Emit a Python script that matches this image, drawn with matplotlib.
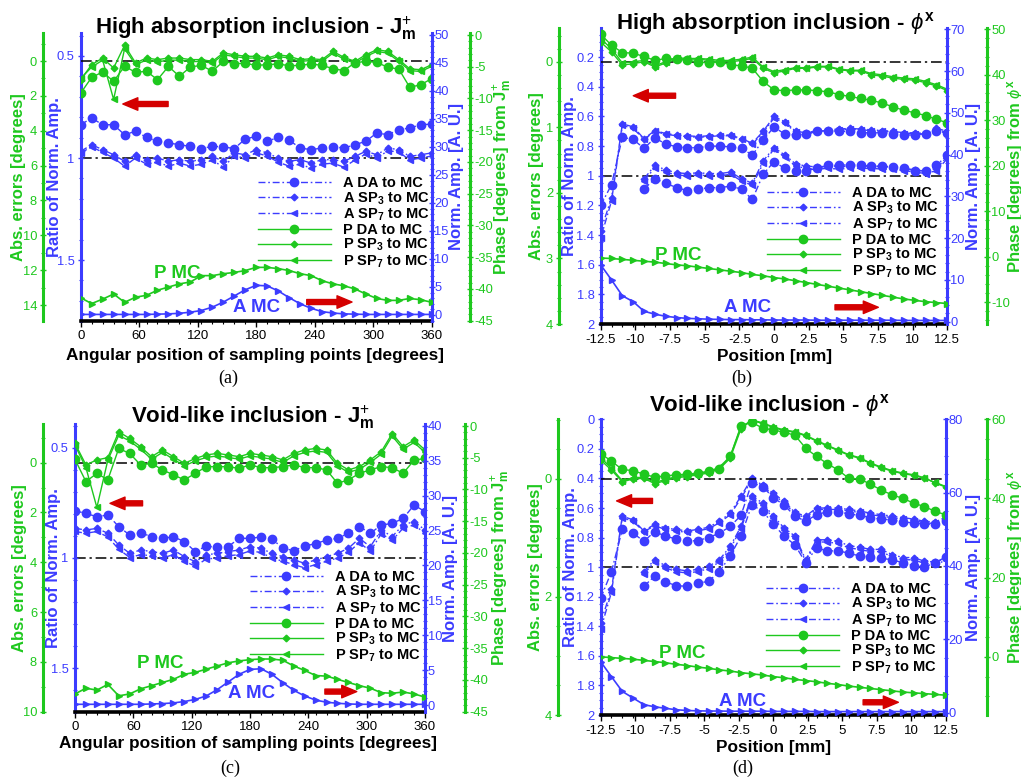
import numpy as np
import matplotlib
matplotlib.use("Agg")
import matplotlib.pyplot as plt
from matplotlib.ticker import MultipleLocator, FuncFormatter

plt.rcParams['font.family'] = ['Liberation Sans', 'DejaVu Sans']
plt.rcParams['mathtext.fontset'] = 'custom'
plt.rcParams['mathtext.rm'] = 'Liberation Sans'
plt.rcParams['mathtext.bf'] = 'Liberation Sans:bold'
plt.rcParams['mathtext.it'] = 'Liberation Sans:italic'
plt.rcParams['mathtext.sf'] = 'Liberation Sans'
plt.rcParams['axes.unicode_minus'] = False

W, H = 1021, 779
GREEN = '#1ec81e'
BLUE = '#3c3cff'
RED = '#d40000'

# ---------------- data ----------------
ANG = np.linspace(0, 360, 33)          # angular sampling points [deg]
POS = np.linspace(-12.5, 12.5, 33)     # positions [mm]
POS_LOW = POS[4:]

# panel (a): high absorption, J_m^+
A_MC_a = [0.1, 0.1, 0.1, 0.1, 0.1, 0.1, 0.1, 0.15, 0.2, 0.3, 0.5, 0.8, 1.4, 2.3, 3.4, 4.5, 5.3,
          5.2, 4.3, 3.1, 2.0, 1.2, 0.6, 0.35, 0.2, 0.15, 0.1, 0.1, 0.1, 0.1, 0.1, 0.1, 0.1]
P_MC_a = [-41.4, -42.3, -41.6, -40.8, -42.1, -41.3, -41.0, -40.2, -39.7, -39.2, -38.9, -37.9, -37.9,
          -37.6, -37.4, -37.1, -36.6, -36.6, -36.8, -37.1, -37.6, -37.9, -38.7, -39.2, -39.5, -40.0,
          -40.8, -41.5, -41.8, -41.8, -41.5, -41.7, -42.1]
A_DA_a = [0.837, 0.804, 0.837, 0.837, 0.886, 0.869, 0.899, 0.918, 0.926, 0.935, 0.943, 0.954, 0.943,
          0.945, 0.954, 0.907, 0.894, 0.918, 0.899, 0.912, 0.951, 0.959, 0.951, 0.945, 0.951, 0.935,
          0.918, 0.877, 0.886, 0.861, 0.853, 0.837, 0.834]
A_SP3_a = [0.967, 0.935, 0.959, 0.984, 1.016, 0.984, 1.008, 1.0, 1.016, 1.008, 1.016, 1.008, 0.992,
           1.016, 0.975, 0.984, 0.959, 0.975, 1.0, 1.016, 1.008, 1.025, 1.008, 1.008, 1.016, 0.992,
           0.967, 0.984, 0.951, 0.959, 0.992, 0.984, 0.975]
A_SP7_a = [0.975, 0.945, 0.972, 1.0, 1.04, 1.0, 1.03, 1.02, 1.04, 1.025, 1.04, 1.03, 1.01, 1.045,
           0.99, 1.0, 0.975, 0.99, 1.02, 1.04, 1.03, 1.05, 1.03, 1.025, 1.045, 1.01, 0.98, 1.0, 0.965,
           0.97, 1.01, 1.0, 0.99]
P_DA_a = [1.84, 0.94, 0.63, 1.17, 0.3, 0.65, 0.59, 1.07, 0.31, 0.88, 0.34, 0.25, 0.59, 0.02, 0.15,
          0.13, 0.25, 0.21, 0.17, 0.27, 0.25, 0.17, 0.25, 0.44, 0.55, 0.1, 0.02, 0.08, 0.36, 0.46,
          1.51, 1.36, 1.01]
P_SP3_a = [1.07, 0.21, -0.17, 0.4, -0.9, 0.11, -0.17, -0.08, -0.17, -0.17, -0.08, -0.08, 0.02, -0.46,
           -0.36, -0.27, -0.27, -0.17, -0.36, -0.27, -0.08, -0.13, -0.08, -0.55, -0.21, 0.02, -0.36,
           -0.65, -0.55, -0.08, 0.45, 0.5, 0.21]
P_SP7_a = [1.0, 0.35, -0.05, 2.2, -0.7, 0.2, -0.05, 0.05, -0.05, -0.05, 0.03, 0.03, 0.12, -0.36,
           -0.26, -0.17, -0.17, -0.07, -0.26, -0.17, 0.02, -0.03, 0.02, -0.45, -0.11, 0.12, -0.26,
           -0.55, -0.45, 0.02, 0.55, 0.6, 0.31]

# panel (b): high absorption, phi^x
A_MC_b = [13.6, 10.0, 6.2, 4.8, 2.5, 1.8, 1.3, 1.0, 0.8, 0.7, 0.6, 0.55, 0.5, 0.5, 0.45, 0.45, 0.4,
          0.4, 0.4, 0.4, 0.35, 0.35, 0.35, 0.35, 0.35, 0.35, 0.35, 0.35, 0.3, 0.3, 0.3, 0.3, 0.3]
P_MC_b = [-0.3, -0.4, -0.6, -0.8, -1.0, -1.2, -1.5, -1.8, -2.0, -2.3, -2.6, -2.9, -3.2, -3.5, -3.9,
          -4.2, -4.6, -4.9, -5.3, -5.7, -6.1, -6.5, -6.9, -7.3, -7.7, -8.1, -8.5, -8.9, -9.3, -9.6,
          -9.9, -10.1, -10.3]
A_DA_b = [1.2, 1.06, 0.74, 0.755, 0.815, 0.745, 0.785, 0.805, 0.81, 0.81, 0.80, 0.80, 0.805, 0.815,
          0.86, 0.76, 0.67, 0.72, 0.725, 0.72, 0.70, 0.695, 0.70, 0.70, 0.71, 0.71, 0.71, 0.715,
          0.725, 0.725, 0.715, 0.70, 0.71]
A_SP3_b = [1.37, 1.15, 0.65, 0.67, 0.75, 0.695, 0.715, 0.725, 0.73, 0.735, 0.73, 0.725, 0.725, 0.75,
           0.78, 0.70, 0.60, 0.635, 0.70, 0.71, 0.695, 0.69, 0.685, 0.68, 0.685, 0.69, 0.695, 0.70,
           0.71, 0.71, 0.715, 0.68, 0.70]
A_SP7_b = [1.42, 1.17, 0.66, 0.68, 0.755, 0.70, 0.72, 0.73, 0.735, 0.74, 0.735, 0.73, 0.73, 0.755,
           0.785, 0.71, 0.61, 0.645, 0.705, 0.715, 0.70, 0.695, 0.69, 0.685, 0.69, 0.695, 0.70,
           0.705, 0.715, 0.715, 0.72, 0.69, 0.71]
A_DA_b_low = [1.09, 1.02, 1.05, 1.08, 1.10, 1.09, 1.08, 1.08, 1.07, 1.09, 1.16, 0.99, 0.905, 0.95,
              0.97, 0.965, 0.95, 0.93, 0.93, 0.925, 0.93, 0.935, 0.935, 0.94, 0.95, 0.965, 0.965,
              0.93, 0.86]
A_SP3_b_low = [1.02, 0.93, 0.96, 0.98, 0.985, 0.98, 0.985, 0.985, 0.975, 1.02, 1.05, 0.90, 0.81,
               0.86, 0.92, 0.935, 0.94, 0.935, 0.94, 0.935, 0.935, 0.935, 0.94, 0.94, 0.95, 0.96,
               0.97, 0.95, 0.87]
A_SP7_b_low = [1.035, 0.945, 0.975, 0.995, 1.0, 0.995, 1.0, 1.0, 0.99, 1.035, 1.065, 0.915, 0.82,
               0.875, 0.935, 0.95, 0.955, 0.95, 0.955, 0.95, 0.95, 0.95, 0.955, 0.955, 0.965, 0.975,
               0.985, 0.965, 0.885]
P_DA_b = [-0.42, -0.25, -0.14, -0.13, -0.08, -0.02, -0.05, -0.04, -0.02, 0.0, 0.02, 0.0, 0.05, 0.06,
          0.1, 0.3, 0.43, 0.44, 0.43, 0.43, 0.44, 0.46, 0.5, 0.53, 0.56, 0.59, 0.63, 0.69, 0.74, 0.78,
          0.82, 0.88, 0.93]
P_SP3_b = [-0.3, -0.15, 0.05, 0.03, 0.0, 0.08, 0.02, -0.04, -0.04, -0.04, -0.02, 0.0, 0.0, -0.02,
           -0.05, 0.1, 0.17, 0.14, 0.1, 0.1, 0.08, 0.08, 0.12, 0.14, 0.14, 0.2, 0.22, 0.25, 0.27,
           0.28, 0.32, 0.37, 0.44]
P_SP7_b = [-0.35, -0.2, 0.02, 0.0, -0.02, 0.06, 0.0, -0.06, -0.05, -0.05, -0.04, -0.02, -0.02,
           -0.04, -0.07, 0.08, 0.15, 0.12, 0.09, 0.09, 0.07, 0.07, 0.11, 0.13, 0.13, 0.18, 0.2, 0.23,
           0.25, 0.26, 0.3, 0.35, 0.42]

# panel (c): void-like, J_m^+
A_MC_c = [0.1, 0.1, 0.1, 0.1, 0.1, 0.1, 0.1, 0.15, 0.2, 0.3, 0.5, 0.8, 1.3, 2.2, 3.3, 4.4, 5.1, 5.2,
          4.4, 3.2, 2.1, 1.3, 0.7, 0.4, 0.25, 0.15, 0.1, 0.1, 0.1, 0.1, 0.1, 0.1, 0.1]
P_MC_c = [-42.2, -41.3, -41.6, -40.7, -42.5, -42.2, -41.4, -40.9, -40.4, -39.9, -39.1, -38.8, -38.3,
          -37.8, -37.3, -37.0, -36.8, -36.7, -36.7, -36.9, -37.8, -38.5, -39.3, -39.4, -39.9, -40.4,
          -40.9, -41.3, -42.0, -42.1, -41.9, -42.2, -42.7]
A_DA_c = [0.786, 0.798, 0.813, 0.805, 0.858, 0.896, 0.885, 0.904, 0.911, 0.904, 0.926, 0.971, 0.946,
          0.952, 0.949, 0.911, 0.911, 0.905, 0.914, 0.955, 0.967, 0.946, 0.935, 0.919, 0.911, 0.888,
          0.858, 0.888, 0.851, 0.843, 0.821, 0.76, 0.79]
A_SP3_c = [0.866, 0.873, 0.866, 0.888, 0.941, 0.979, 0.964, 0.971, 0.979, 0.964, 0.994, 1.017,
           0.986, 0.979, 0.971, 0.964, 0.949, 0.956, 0.979, 0.994, 1.009, 1.024, 1.009, 0.994,
           0.979, 0.956, 0.911, 0.949, 0.873, 0.903, 0.85, 0.835, 0.873]
A_SP7_c = [0.88, 0.888, 0.88, 0.905, 0.96, 0.998, 0.985, 0.99, 1.0, 0.985, 1.015, 1.037, 1.005, 1.0,
           0.99, 0.985, 0.968, 0.975, 1.0, 1.015, 1.03, 1.045, 1.03, 1.015, 1.0, 0.975, 0.93, 0.97,
           0.89, 0.92, 0.865, 0.85, 0.888]
P_DA_c = [-0.13, 0.76, 0.43, 0.69, -0.57, -0.37, 0.09, 0.03, 0.29, 0.49, 0.69, 0.43, 0.16, 0.16,
          0.16, 0.23, 0.09, 0.2, 0.2, 0.16, 0.09, 0.2, 0.2, 0.29, 0.83, 0.69, 0.43, 0.29, 0.16, 0.2,
          0.43, -0.1, -0.17]
P_SP3_c = [-0.77, 0.09, -0.11, -0.2, -1.24, -0.97, -0.64, -0.24, -0.51, -0.24, 0.03, -0.17, -0.31,
           -0.37, -0.31, -0.24, -0.37, -0.31, -0.24, -0.11, -0.37, -0.51, -0.57, -0.51, 0.03, 0.29,
           0.16, -0.11, -0.44, -1.17, -0.64, -0.91, -0.51]
P_SP7_c = [-0.7, 0.2, 1.8, -0.1, -1.1, -0.87, -0.54, -0.14, -0.41, -0.14, 0.13, -0.07, -0.21, -0.27,
           -0.21, -0.14, -0.27, -0.21, -0.14, -0.01, -0.27, -0.41, -0.47, -0.41, 0.13, 0.39, 0.26,
           -0.01, -0.34, -1.07, -0.54, -0.81, -0.41]

# panel (d): void-like, phi^x
A_MC_d = [13.9, 9.8, 5.8, 4.0, 2.2, 1.6, 1.2, 0.8, 0.6, 0.5, 0.45, 0.45, 0.4, 0.4, 0.4, 0.4, 0.35,
          0.35, 0.35, 0.35, 0.3, 0.3, 0.3, 0.3, 0.3, 0.3, 0.3, 0.3, 0.3, 0.3, 0.3, 0.3, 0.3]
P_MC_d = [0.0, -0.2, -0.4, -0.6, -0.9, -1.2, -1.5, -1.9, -2.2, -2.6, -2.9, -3.3, -3.6, -4.0, -4.3,
          -4.6, -5.0, -5.3, -5.7, -6.0, -6.3, -6.7, -7.0, -7.4, -7.7, -8.0, -8.3, -8.6, -8.9, -9.1,
          -9.3, -9.5, -9.7]
A_DA_d = [1.21, 1.03, 0.745, 0.77, 0.825, 0.76, 0.79, 0.81, 0.825, 0.82, 0.80, 0.77, 0.725, 0.65,
          0.43, 0.455, 0.53, 0.58, 0.655, 0.69, 0.645, 0.625, 0.625, 0.64, 0.65, 0.665, 0.675, 0.68,
          0.695, 0.70, 0.71, 0.71, 0.69]
A_SP3_d = [1.375, 1.15, 0.655, 0.68, 0.755, 0.71, 0.735, 0.745, 0.755, 0.745, 0.73, 0.69, 0.635,
           0.52, 0.40, 0.445, 0.50, 0.555, 0.63, 0.655, 0.60, 0.60, 0.60, 0.61, 0.62, 0.635, 0.645,
           0.655, 0.665, 0.675, 0.69, 0.695, 0.66]
A_SP7_d = [1.42, 1.17, 0.665, 0.69, 0.76, 0.72, 0.745, 0.755, 0.765, 0.755, 0.74, 0.70, 0.645,
           0.535, 0.41, 0.455, 0.51, 0.565, 0.64, 0.665, 0.61, 0.61, 0.61, 0.62, 0.63, 0.645, 0.655,
           0.665, 0.675, 0.685, 0.70, 0.705, 0.67]
A_DA_d_low = [1.13, 1.06, 1.10, 1.125, 1.13, 1.11, 1.095, 1.03, 0.925, 0.79, 0.58, 0.62, 0.71, 0.79,
              0.85, 0.97, 0.87, 0.89, 0.89, 0.905, 0.925, 0.93, 0.94, 0.95, 0.97, 0.99, 1.0, 0.97,
              0.93]
A_SP3_d_low = [1.03, 0.95, 0.99, 1.015, 1.025, 1.015, 0.995, 0.95, 0.86, 0.725, 0.52, 0.565, 0.655,
               0.735, 0.79, 0.95, 0.815, 0.815, 0.825, 0.855, 0.865, 0.88, 0.88, 0.915, 0.935,
               0.935, 0.96, 0.965, 0.94]
A_SP7_d_low = [1.045, 0.965, 1.005, 1.03, 1.04, 1.03, 1.01, 0.965, 0.875, 0.74, 0.535, 0.58, 0.67,
               0.75, 0.805, 0.96, 0.83, 0.83, 0.84, 0.87, 0.88, 0.895, 0.895, 0.93, 0.95, 0.95,
               0.975, 0.98, 0.955]
P_DA_d = [-0.43, -0.3, -0.16, -0.14, -0.08, -0.03, -0.05, -0.07, -0.08, -0.1, -0.13, -0.17, -0.38,
          -0.9, -0.96, -0.86, -0.83, -0.79, -0.74, -0.52, -0.38, -0.26, -0.15, -0.01, 0.0, 0.09,
          0.19, 0.27, 0.33, 0.41, 0.47, 0.55, 0.61]
P_SP3_d = [-0.32, -0.15, 0.05, 0.0, -0.01, 0.08, 0.03, -0.02, -0.04, -0.07, -0.1, -0.17, -0.35,
           -0.85, -1.0, -0.95, -0.88, -0.83, -0.8, -0.74, -0.65, -0.57, -0.49, -0.41, -0.36, -0.27,
           -0.2, -0.14, -0.1, -0.07, -0.02, 0.07, 0.14]
P_SP7_d = [-0.36, -0.18, 0.03, -0.02, -0.03, 0.06, 0.01, -0.04, -0.06, -0.09, -0.12, -0.2, -0.38,
           -0.88, -0.99, -0.94, -0.87, -0.82, -0.79, -0.73, -0.64, -0.56, -0.48, -0.4, -0.35, -0.26,
           -0.19, -0.13, -0.09, -0.06, -0.01, 0.06, 0.13]

LEGEND_LABELS = ["A DA to MC", r"A SP$_{\mathbf{3}}$ to MC", r"A SP$_{\mathbf{7}}$ to MC",
                 "P DA to MC", r"P SP$_{\mathbf{3}}$ to MC", r"P SP$_{\mathbf{7}}$ to MC"]

TITLE_J = r"$\mathbf{J}^{+}_{\mathbf{m}}$"
TITLE_PHI = r"$\phi^{\mathbf{x}}$"

PANELS = [
    dict(x=ANG, box=(80.7, 431.7, 33.3, 320.7), xlim=(0, 360), xticks=np.arange(0, 361, 60), xminor=11.25,
         ratio_lim=(1.797, 0.389), ratio_ticks=[0.5, 1, 1.5], ratio_minor=0.1,
         err_lim=(14.9, -1.59), err_ticks=np.arange(0, 15, 2), err_minor=1,
         amp_lim=(-1.02, 50.3), amp_ticks=np.arange(0, 51, 5), amp_minor=1,
         ph_lim=(-45, 0.27), ph_ticks=np.arange(-45, 1, 5), ph_minor=1,
         err_off=-0.1066, ph_off=1.1091,
         lab=dict(err=-0.177, ratio=-0.075, amp=1.072, ph=1.203),
         title="High absorption inclusion - " + TITLE_J, title_xy=(256, 34),
         xlabel="Angular position of sampling points [degrees]", xlabel_xy=(255, 360),
         phlabel="Phase [degrees] from " + TITLE_J, sub="(a)", sub_xy=(228, 378),
         A=(A_DA_a, A_SP3_a, A_SP7_a), A_low=None, P=(P_DA_a, P_SP3_a, P_SP7_a),
         AMC=A_MC_a, PMC=P_MC_a, leg=(0.505, 0.503),
         arrL=((0.249, 0.754), (0.120, 0.754)), arrR=((0.644, 0.065), (0.773, 0.065)),
         pmc_xy=(177, 273), amc_xy=(257, 308)),
    dict(x=POS, box=(600.7, 947.3, 28.3, 324), xlim=(-12.5, 12.5), xticks=np.arange(-12.5, 12.6, 2.5), xminor=0.78125,
         ratio_lim=(1.995, 0.005), ratio_ticks=np.arange(0.2, 2.01, 0.2), ratio_minor=0.05,
         err_lim=(4.0, -0.51), err_ticks=np.arange(0, 5, 1), err_minor=0.2,
         amp_lim=(-0.55, 70.24), amp_ticks=np.arange(0, 71, 10), amp_minor=2,
         ph_lim=(-14.8, 50.2), ph_ticks=np.arange(-10, 51, 10), ph_minor=2,
         err_off=-0.1194, ph_off=1.1154,
         lab=dict(err=-0.184, ratio=-0.0886, amp=1.077, ph=1.196),
         title="High absorption inclusion - " + TITLE_PHI, title_xy=(775, 29.3),
         xlabel="Position [mm]", xlabel_xy=(775, 360.7),
         phlabel="Phase [degrees] from " + TITLE_PHI, sub="(b)", sub_xy=(742, 378),
         A=(A_DA_b, A_SP3_b, A_SP7_b), A_low=(A_DA_b_low, A_SP3_b_low, A_SP7_b_low),
         P=(P_DA_b, P_SP3_b, P_SP7_b), AMC=A_MC_b, PMC=P_MC_b, leg=(0.479, 0.467),
         arrL=((0.216, 0.772), (0.094, 0.772)), arrR=((0.676, 0.0565), (0.801, 0.0565)),
         pmc_xy=(678, 255), amc_xy=(748, 308)),
    dict(x=ANG, box=(75, 425, 424.3, 711.7), xlim=(0, 360), xticks=np.arange(0, 361, 60), xminor=11.25,
         ratio_lim=(1.697, 0.394), ratio_ticks=[0.5, 1, 1.5], ratio_minor=0.1,
         err_lim=(10, -1.54), err_ticks=np.arange(0, 11, 2), err_minor=1,
         amp_lim=(-0.96, 40.24), amp_ticks=np.arange(0, 41, 5), amp_minor=1,
         ph_lim=(-45, 0.27), ph_ticks=np.arange(-45, 1, 5), ph_minor=1,
         err_off=-0.0906, ph_off=1.1143,
         lab=dict(err=-0.158, ratio=-0.060, amp=1.073, ph=1.216),
         title="Void-like inclusion - " + TITLE_J, title_xy=(253, 422.7),
         xlabel="Angular position of sampling points [degrees]", xlabel_xy=(248, 747.7),
         phlabel="Phase [degrees] from " + TITLE_J, sub="(c)", sub_xy=(230, 768),
         A=(A_DA_c, A_SP3_c, A_SP7_c), A_low=None, P=(P_DA_c, P_SP3_c, P_SP7_c),
         AMC=A_MC_c, PMC=P_MC_c, leg=(0.5, 0.493),
         arrL=((0.193, 0.725), (0.100, 0.725)), arrR=((0.714, 0.070), (0.805, 0.070)),
         pmc_xy=(160, 664), amc_xy=(252, 694)),
    dict(x=POS, box=(600.7, 946, 419.3, 715), xlim=(-12.5, 12.5), xticks=np.arange(-12.5, 12.6, 2.5), xminor=0.78125,
         ratio_lim=(2.0, 0.0), ratio_ticks=np.arange(0, 2.01, 0.2), ratio_minor=0.05,
         err_lim=(4.0, -1.01), err_ticks=[0, 2, 4], err_minor=0.5,
         amp_lim=(-0.63, 80), amp_ticks=np.arange(0, 81, 20), amp_minor=5,
         ph_lim=(-14.7, 60), ph_ticks=np.arange(0, 61, 20), ph_minor=5,
         err_off=-0.1228, ph_off=1.1196,
         lab=dict(err=-0.189, ratio=-0.0889, amp=1.081, ph=1.200),
         title="Void-like inclusion - " + TITLE_PHI, title_xy=(769, 411),
         xlabel="Position [mm]", xlabel_xy=(774, 752),
         phlabel="Phase [degrees] from " + TITLE_PHI, sub="(d)", sub_xy=(743, 768),
         A=(A_DA_d, A_SP3_d, A_SP7_d), A_low=(A_DA_d_low, A_SP3_d_low, A_SP7_d_low),
         P=(P_DA_d, P_SP3_d, P_SP7_d), AMC=A_MC_d, PMC=P_MC_d, leg=(0.479, 0.450),
         arrL=((0.150, 0.724), (0.046, 0.724)), arrR=((0.760, 0.043), (0.862, 0.043)),
         pmc_xy=(682, 654), amc_xy=(743, 701)),
]

MARKERS = [('o', 6.0), ('D', 3.4), ('<', 4.0)]
DASHDOT = (5, 2, 1.2, 2)

fig = plt.figure(figsize=(W / 100, H / 100), dpi=100)
fmt = FuncFormatter(lambda v, p: '%g' % round(v, 6))


def style_y(axis_obj, color, ticks, minor, lim, pad=2):
    axis_obj.set_ylim(*lim)
    axis_obj.set_yticks(ticks)
    axis_obj.yaxis.set_major_formatter(fmt)
    axis_obj.yaxis.set_minor_locator(MultipleLocator(minor))
    axis_obj.tick_params(axis='y', which='major', colors=color, labelsize=9.3,
                         direction='inout', length=5, width=1, pad=pad)
    axis_obj.tick_params(axis='y', which='minor', colors=color, direction='inout', length=3, width=0.8)


def set_lab(axis_obj, text, color, xfrac, side):
    axis_obj.yaxis.set_label_position(side)
    lab = axis_obj.set_ylabel(text, color=color, fontsize=12, fontweight='bold')
    lab.set_va('center')
    lab.set_ha('center')
    axis_obj.yaxis.set_label_coords(xfrac, 0.5)


for P in PANELS:
    l, r, t, b = P['box']
    w, h = r - l, b - t
    ax = fig.add_axes([l / W, 1 - b / H, w / W, h / H])
    ax_err = ax.twinx()
    ax_amp = ax.twinx()
    ax_ph = ax.twinx()
    ax.set_xlim(*P['xlim'])

    # main axis: ratio of norm. amp (left, blue)
    ax.spines['top'].set_visible(False)
    ax.spines['right'].set_visible(False)
    ax.spines['left'].set_color(BLUE)
    ax.spines['left'].set_linewidth(2.2)
    ax.spines['bottom'].set_color('black')
    ax.spines['bottom'].set_linewidth(2.6)
    ax.set_xticks(P['xticks'])
    ax.xaxis.set_major_formatter(fmt)
    ax.xaxis.set_minor_locator(MultipleLocator(P['xminor']))
    ax.tick_params(axis='x', which='major', labelsize=9.5, length=4, width=1, direction='out', pad=3)
    ax.tick_params(axis='x', which='minor', length=2.5, width=0.8, direction='out')
    style_y(ax, BLUE, P['ratio_ticks'], P['ratio_minor'], P['ratio_lim'], pad=2)
    set_lab(ax, "Ratio of Norm. Amp.", BLUE, P['lab']['ratio'], 'left')

    # abs errors (outer left, green)
    ax_err.yaxis.tick_left()
    for s in ['top', 'right', 'bottom']:
        ax_err.spines[s].set_visible(False)
    ax_err.spines['left'].set_visible(True)
    ax_err.spines['left'].set_position(('axes', P['err_off']))
    ax_err.spines['left'].set_color(GREEN)
    ax_err.spines['left'].set_linewidth(2.2)
    style_y(ax_err, GREEN, P['err_ticks'], P['err_minor'], P['err_lim'], pad=2)
    set_lab(ax_err, "Abs. errors [degrees]", GREEN, P['lab']['err'], 'left')

    # norm amp (right, blue)
    for s in ['top', 'left', 'bottom']:
        ax_amp.spines[s].set_visible(False)
    ax_amp.spines['right'].set_color(BLUE)
    ax_amp.spines['right'].set_linewidth(2.2)
    style_y(ax_amp, BLUE, P['amp_ticks'], P['amp_minor'], P['amp_lim'], pad=-0.5)
    set_lab(ax_amp, "Norm. Amp. [A. U.]", BLUE, P['lab']['amp'], 'right')

    # phase (outer right, green)
    for s in ['top', 'left', 'bottom']:
        ax_ph.spines[s].set_visible(False)
    ax_ph.spines['right'].set_position(('axes', P['ph_off']))
    ax_ph.spines['right'].set_color(GREEN)
    ax_ph.spines['right'].set_linewidth(2.2)
    style_y(ax_ph, GREEN, P['ph_ticks'], P['ph_minor'], P['ph_lim'], pad=0.5)
    set_lab(ax_ph, P['phlabel'], GREEN, P['lab']['ph'], 'right')

    x = P['x']
    # reference lines
    ax.axhline(1.0, color='black', lw=1.1, dashes=(7, 2.5, 1.5, 2.5), zorder=1)
    ax_err.axhline(0.0, color='black', lw=1.1, dashes=(7, 2.5, 1.5, 2.5), zorder=1)

    handles = []
    for vals, (mk, ms), lab in zip(P['A'], MARKERS, LEGEND_LABELS[:3]):
        ln, = ax.plot(x, vals, color=BLUE, lw=1.0, dashes=DASHDOT, marker=mk, ms=ms,
                      mec=BLUE, mfc=BLUE, label=lab)
        handles.append(ln)
    if P['A_low'] is not None:
        for vals, (mk, ms) in zip(P['A_low'], MARKERS):
            ax.plot(POS_LOW, vals, color=BLUE, lw=1.0, dashes=DASHDOT, marker=mk, ms=ms,
                    mec=BLUE, mfc=BLUE)
    for vals, (mk, ms), lab in zip(P['P'], MARKERS, LEGEND_LABELS[3:]):
        ln, = ax_err.plot(x, vals, color=GREEN, lw=1.0, marker=mk, ms=ms,
                          mec=GREEN, mfc=GREEN, label=lab)
        handles.append(ln)
    ax_amp.plot(x, P['AMC'], color=BLUE, lw=1.2, marker='>', ms=4, mec=BLUE, mfc=BLUE)
    ax_ph.plot(x, P['PMC'], color=GREEN, lw=1.2, marker='>', ms=4, mec=GREEN, mfc=GREEN)

    ax_ph.legend(handles=handles, loc='upper left', bbox_to_anchor=P['leg'],
                 bbox_transform=ax.transAxes, frameon=False, borderpad=0,
                 borderaxespad=0, handlelength=5.0, handletextpad=0.85,
                 labelspacing=0.0, prop=dict(size=10.5, weight='bold'))

    # arrows
    for (tail, head) in (P['arrL'], P['arrR']):
        ax_ph.annotate('', xy=head, xytext=tail, xycoords=ax.transAxes, textcoords=ax.transAxes,
                       arrowprops=dict(arrowstyle='simple,head_length=0.9,head_width=0.75,tail_width=0.3',
                                       color=RED, mutation_scale=12, shrinkA=0, shrinkB=0))

    # texts
    fig.text(P['pmc_xy'][0] / W, 1 - P['pmc_xy'][1] / H, "P MC", color=GREEN, fontsize=13.5,
             fontweight='bold', ha='center', va='center')
    fig.text(P['amc_xy'][0] / W, 1 - P['amc_xy'][1] / H, "A MC", color=BLUE, fontsize=13.5,
             fontweight='bold', ha='center', va='center')
    fig.text(P['title_xy'][0] / W, 1 - P['title_xy'][1] / H, P['title'], fontsize=16,
             fontweight='bold', ha='center', va='baseline')
    fig.text(P['xlabel_xy'][0] / W, 1 - P['xlabel_xy'][1] / H, P['xlabel'], fontsize=12.4,
             fontweight='bold', ha='center', va='baseline')
    fig.text(P['sub_xy'][0] / W, 1 - P['sub_xy'][1] / H, P['sub'], fontsize=13,
             family='Liberation Serif', ha='center', va='center')

fig.savefig("out.png", dpi=100, facecolor='white')
